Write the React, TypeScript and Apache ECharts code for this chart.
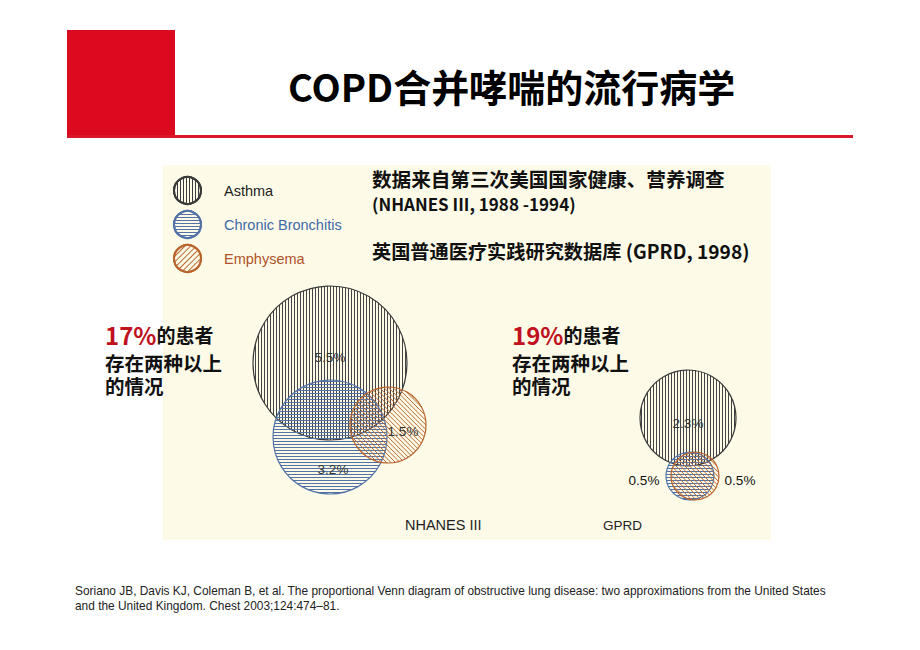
import React, { useEffect, useRef } from "react";
import * as echarts from "echarts";

// ---- data ----
const diseases = ["Asthma", "Chronic Bronchitis", "Emphysema"];
const surveys = ["NHANES III", "GPRD"];
// circle centres and radii in diagram units: [disease][survey]
const centerX = [[167, 525], [167, 527], [225, 532]];
const centerY = [[198, 253], [272, 311], [260, 311]];
const radius = [[77, 48], [57, 24], [38, 24]];
const exclusivePct = [["5.5%", "2.3%"], ["3.2%", "0.5%"], ["1.5%", "0.5%"]];
const overlapPct = ["17%", "19%"];
const overlapLines = ["的患者", "存在两种以上", "的情况"];
const titleText = "COPD合并哮喘的流行病学";
const sourceLines = [
  "数据来自第三次美国国家健康、营养调查",
  "(NHANES III, 1988 -1994)",
  "英国普通医疗实践研究数据库 (GPRD, 1998)",
];
const citationLines = [
  "Soriano JB, Davis KJ, Coleman B, et al. The proportional Venn diagram of obstructive lung disease: two approximations from the United States",
  "and the United Kingdom. Chest 2003;124:474–81.",
];

// ---- styles ----
const outlineColors = ["#3a3a3a", "#5272a8", "#b8642e"];
const hatchColors = ["#444444", "#5272a8", "#bb6a34"];
const hatchAngles = [Math.PI / 2, 0, Math.PI / 4];
const hatchPitch = [3, 3, 3.2];
const legendTextColors = ["#222222", "#3e6aa8", "#b0522a"];
const decals: any[] = [
  { symbol: "rect", symbolSize: 1, color: "#3c3c3c", backgroundColor: "rgba(0,0,0,0)", dashArrayX: [1, 2], dashArrayY: [1, 0], rotation: 0 },
  { symbol: "rect", symbolSize: 1, color: "#5272a8", backgroundColor: "rgba(0,0,0,0)", dashArrayX: [1, 0], dashArrayY: [1, 2], rotation: 0 },
  { symbol: "rect", symbolSize: 1, color: "#bb6a34", backgroundColor: "rgba(0,0,0,0)", dashArrayX: [1, 0], dashArrayY: [1, 2.2], rotation: -Math.PI / 4 },
];
const labelOffsets = [
  [[0, -6], [0, 5]],
  [[3, 32], [-46, 4]],
  [[15, 6], [45, 4]],
];
const labelColors = [["#333", "#333"], ["#333", "#111"], ["#333", "#111"]];

const CJK = '"Noto Sans CJK SC", "Noto Sans", sans-serif';
const LAT = '"Liberation Sans", Arial, sans-serif';

export default function App() {
  const ref = useRef<HTMLDivElement>(null);
  useEffect(() => {
    document.body.style.margin = "0";
    const chart = echarts.init(ref.current!, null, { renderer: "svg" });

    const series = diseases.map((d, i) => ({
      name: d,
      type: "custom",
      z: 3 + i,
      clip: false,
      coordinateSystem: "cartesian2d",
      encode: { x: 0, y: 1 },
      itemStyle: {
        color: "rgba(0,0,0,0)",
        borderColor: outlineColors[i],
        borderWidth: 1,
        decal: decals[i],
      },
      emphasis: { disabled: true },
      data: surveys.map((s, j) => ({ name: s, value: [centerX[i][j], centerY[i][j], radius[i][j]] })),
      renderItem: (params: any, api: any) => {
        const j = params.dataIndex;
        const c = api.coord([api.value(0), api.value(1)]);
        const rp = Math.abs(api.size([api.value(2), 0])[0]);
        const a = hatchAngles[i];
        const dx = Math.cos(a), dy = Math.sin(a);
        const nx = -dy, ny = dx;
        const pitch = hatchPitch[i];
        const children: any[] = [];
        for (let dd = -rp + pitch / 2; dd < rp; dd += pitch) {
          const half = Math.sqrt(Math.max(0, rp * rp - dd * dd));
          const px = c[0] + nx * dd, py = c[1] + ny * dd;
          children.push({
            type: "line",
            shape: { x1: px - dx * half, y1: py - dy * half, x2: px + dx * half, y2: py + dy * half },
            style: { stroke: hatchColors[i], lineWidth: 1 },
          });
        }
        children.push({
          type: "circle",
          shape: { cx: c[0], cy: c[1], r: rp },
          style: { fill: "none", stroke: outlineColors[i], lineWidth: 1.2 },
        });
        children.push({
          type: "text",
          z2: 100,
          x: c[0] + labelOffsets[i][j][0],
          y: c[1] + labelOffsets[i][j][1],
          style: {
            text: exclusivePct[i][j],
            fill: labelColors[i][j],
            font: `13.5px ${LAT}`,
            align: "center",
            verticalAlign: "middle",
          },
        });
        return { type: "group", children };
      },
    }));

    const overlapBlock = (x: number, pct: string) => [
      {
        type: "text",
        x,
        y: 334,
        style: {
          text: `{p|${pct}}{t|${overlapLines[0]}}`,
          align: "left",
          verticalAlign: "middle",
          rich: {
            p: { fontFamily: CJK, fontWeight: "bold", fontSize: 24, fill: "#c0111d", lineHeight: 26 },
            t: { fontFamily: CJK, fontWeight: "bold", fontSize: 19, fill: "#111", lineHeight: 26 },
          },
        },
      },
      {
        type: "text", x, y: 362,
        style: { text: overlapLines[1], font: `bold 19.5px ${CJK}`, fill: "#111", align: "left", verticalAlign: "middle", lineHeight: 22 },
      },
      {
        type: "text", x, y: 385,
        style: { text: overlapLines[2], font: `bold 19.5px ${CJK}`, fill: "#111", align: "left", verticalAlign: "middle", lineHeight: 22 },
      },
    ];

    chart.setOption({
      animation: false,
      grid: { left: 163, top: 165, width: 608, height: 375 },
      xAxis: { type: "value", min: 0, max: 608, show: false },
      yAxis: { type: "value", min: 0, max: 375, inverse: true, show: false },
      legend: {
        orient: "vertical",
        left: 168,
        top: 171,
        itemWidth: 27,
        itemHeight: 27,
        itemGap: 5,
        icon: "circle",
        selectedMode: false,
        data: diseases.map((d, i) => ({ name: d, textStyle: { color: legendTextColors[i] } })),
        textStyle: { fontFamily: LAT, fontSize: 14.5, padding: [4, 0, 0, 18] },
      },
      series,
      graphic: [
        { type: "rect", z: -10, shape: { x: 163, y: 165, width: 608, height: 375 }, style: { fill: "#fdfbe8" } },
        { type: "rect", z: 1, shape: { x: 67, y: 30, width: 108, height: 107 }, style: { fill: "#dc0a1f" } },
        { type: "rect", z: 1, shape: { x: 67, y: 135, width: 786, height: 3 }, style: { fill: "#d8172b" } },
        {
          type: "text", x: 288, y: 85,
          style: { text: titleText, font: `bold 38px ${CJK}`, fill: "#000", align: "left", verticalAlign: "middle" },
        },
        {
          type: "text", x: 372, y: 178,
          style: { text: sourceLines[0], font: `bold 19.6px ${CJK}`, fill: "#111", align: "left", verticalAlign: "middle" },
        },
        {
          type: "text", x: 372, y: 203,
          style: { text: sourceLines[1], font: `bold 17px ${CJK}`, fill: "#111", align: "left", verticalAlign: "middle" },
        },
        {
          type: "text", x: 372, y: 251,
          style: { text: sourceLines[2], font: `bold 19.2px ${CJK}`, fill: "#111", align: "left", verticalAlign: "middle" },
        },
        ...overlapBlock(105, overlapPct[0]),
        ...overlapBlock(512, overlapPct[1]),
        {
          type: "text", x: 405, y: 525,
          style: { text: surveys[0], font: `14.5px ${LAT}`, fill: "#222", align: "left", verticalAlign: "middle" },
        },
        {
          type: "text", x: 603, y: 525,
          style: { text: surveys[1], font: `13.5px ${LAT}`, fill: "#222", align: "left", verticalAlign: "middle" },
        },
        {
          type: "text", x: 75, y: 591,
          style: { text: citationLines[0], font: `11.9px ${LAT}`, fill: "#222", align: "left", verticalAlign: "middle" },
        },
        {
          type: "text", x: 75, y: 606,
          style: { text: citationLines[1], font: `11.9px ${LAT}`, fill: "#222", align: "left", verticalAlign: "middle" },
        },
      ],
    });
    return () => chart.dispose();
  }, []);
  return <div ref={ref} style={{ width: 920, height: 650 }} />;
}
